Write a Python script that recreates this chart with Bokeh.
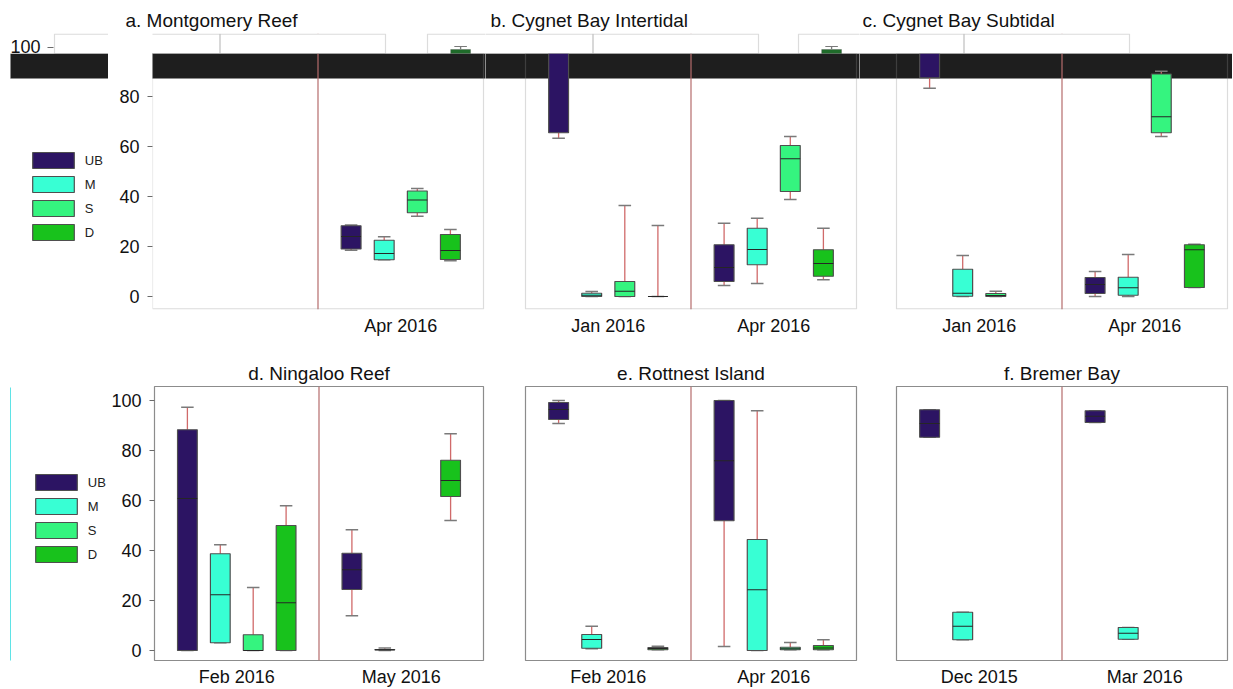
from bokeh.plotting import figure
from bokeh.layouts import column, row
from bokeh.models import (ColumnDataSource, FixedTicker, Span, BoxAnnotation,
                          Legend, LegendItem, Label, Range1d)
from bokeh.embed import file_html
from bokeh.resources import INLINE

FONT = "Liberation Sans"
SPECIES = ["UB", "M", "S", "D"]
COLORS = ["#2c1463", "#38ffd4", "#35f47f", "#18c21c"]

# ---------------- data (five-number summaries, % cover) ----------------
A_TITLE = "a. Montgomery Reef"
A_DATES = ["", "Apr 2016"]
A_DATE = [1, 1, 1, 1]
A_SPEC = ["UB", "M", "S", "D"]
A_MIN = [18.5, 14.7, 32.1, 14.3]
A_Q1 = [19.0, 14.7, 33.5, 14.8]
A_MED = [24.0, 17.2, 38.6, 18.4]
A_Q3 = [28.3, 22.5, 42.2, 24.8]
A_MAX = [28.6, 23.9, 43.2, 26.8]

B_TITLE = "b. Cygnet Bay Intertidal"
B_DATES = ["Jan 2016", "Apr 2016"]
B_DATE = [0, 0, 0, 0, 1, 1, 1, 1]
B_SPEC = ["UB", "M", "S", "D", "UB", "M", "S", "D"]
B_MIN = [63.3, 0.0, 0.0, 0.0, 4.4, 5.2, 38.8, 6.7]
B_Q1 = [65.5, 0.0, 0.0, 0.0, 6.0, 12.7, 42.0, 8.1]
B_MED = [98.0, 0.5, 2.1, 0.0, 11.6, 18.8, 55.1, 13.2]
B_Q3 = [98.8, 1.3, 6.0, 0.0, 20.7, 27.3, 60.4, 18.7]
B_MAX = [100.0, 2.0, 36.4, 28.4, 29.3, 31.3, 64.0, 27.3]

C_TITLE = "c. Cygnet Bay Subtidal"
C_DATES = ["Jan 2016", "Apr 2016"]
C_DATE = [0, 0, 0, 1, 1, 1, 1]
C_SPEC = ["UB", "M", "S", "UB", "M", "S", "D"]
C_MIN = [83.3, 0.0, 0.0, 0.0, 0.0, 64.0, 3.6]
C_Q1 = [87.5, 0.1, 0.0, 1.2, 0.5, 65.5, 3.6]
C_MED = [98.0, 1.3, 0.4, 4.8, 3.5, 71.9, 18.7]
C_Q3 = [98.8, 10.9, 1.2, 7.6, 7.7, 89.0, 20.7]
C_MAX = [100.0, 16.4, 2.1, 10.0, 16.8, 90.1, 20.9]

D_TITLE = "d. Ningaloo Reef"
D_DATES = ["Feb 2016", "May 2016"]
D_DATE = [0, 0, 0, 0, 1, 1, 1]
D_SPEC = ["UB", "M", "S", "D", "UB", "M", "D"]
D_MIN = [0.0, 3.1, 0.0, 0.0, 13.9, 0.0, 52.0]
D_Q1 = [0.0, 3.1, 0.0, 0.0, 24.4, 0.2, 61.6]
D_MED = [60.8, 22.3, 0.0, 19.1, 32.3, 0.3, 68.0]
D_Q3 = [88.3, 38.7, 6.3, 50.0, 38.9, 0.4, 76.1]
D_MAX = [97.3, 42.3, 25.2, 57.9, 48.3, 1.0, 86.7]

E_TITLE = "e. Rottnest Island"
E_DATES = ["Feb 2016", "Apr 2016"]
E_DATE = [0, 0, 0, 1, 1, 1, 1]
E_SPEC = ["UB", "M", "D", "UB", "M", "S", "D"]
E_MIN = [90.8, 0.7, 0.3, 1.6, 0.0, 0.3, 0.3]
E_Q1 = [92.4, 0.9, 0.3, 51.9, 0.0, 0.3, 0.3]
E_MED = [96.4, 4.4, 0.8, 75.9, 24.3, 0.7, 1.0]
E_Q3 = [99.2, 6.4, 1.2, 100.0, 44.4, 1.3, 2.0]
E_MAX = [100.0, 9.7, 1.7, 100.0, 95.9, 3.2, 4.3]

F_TITLE = "f. Bremer Bay"
F_DATES = ["Dec 2015", "Mar 2016"]
F_DATE = [0, 0, 1, 1]
F_SPEC = ["UB", "M", "UB", "M"]
F_MIN = [85.3, 4.3, 91.2, 4.5]
F_Q1 = [85.3, 4.3, 91.2, 4.5]
F_MED = [90.8, 9.7, 93.7, 6.9]
F_Q3 = [96.3, 15.3, 95.9, 9.2]
F_MAX = [96.3, 15.3, 95.9, 9.2]

Y_TICKS_TOP = [0, 20, 40, 60, 80]
Y_TICKS_BOT = [0, 20, 40, 60, 80, 100]

# ---------------- layout constants (page pixels) ----------------
FRAME_W = 331
UX = FRAME_W / 10.0
UY = 2.5
FRAME_LEFTS = [152, 525, 896]
EDGES_TOP = [0, 108, 485, 859, 1232]
EDGES_BOT = [0, 108, 504, 877, 1232]
TOP = dict(fig_y=0, frame_y=33, frame_h=276, height=345, y_top=105.2)
BOT = dict(fig_y=345, frame_y=386, frame_h=274, height=344, y_top=105.6)
SHIFT = 98
BAND = (53, 78)
STRIP_Y0 = 31
TITLE_LEFTS = [125, 490, 862]
# legend: left/top of first swatch (page px); legend glyph area 52x20 (drawn swatch ~42x16)
LEG_TOP = (32, 152)
LEG_BOT = (35, 474)
GLYPH_W, GLYPH_H, LEG_SPACING = 52, 20, 4

BOX_LINE = "#4f4f4f"
STEM = "#d06a6a"
CAP = "#7a7a7a"
MED = "#262626"
FRAME = "#8c8c8c"
DIVIDER = "#b56c6c"
TEXT = "#111111"


def style_axes(p, col, dates, yticks):
    xa = p.xaxis[0]
    xa.ticker = FixedTicker(ticks=[2.5, 7.5])
    xa.major_label_overrides = {2.5: dates[0], 7.5: dates[1]}
    xa.axis_line_color = None
    xa.major_tick_line_color = None
    xa.minor_tick_line_color = None
    xa.major_label_text_font = FONT
    xa.major_label_text_font_size = "18px"
    xa.major_label_text_color = TEXT
    xa.major_label_standoff = 0
    if col == 0:
        ya = p.yaxis[0]
        ya.ticker = FixedTicker(ticks=yticks)
        ya.axis_line_color = None
        ya.major_tick_line_color = "#6a6a6a"
        ya.major_tick_out = 5
        ya.major_tick_in = 0
        ya.minor_tick_line_color = None
        ya.major_label_text_font = FONT
        ya.major_label_text_font_size = "18px"
        ya.major_label_text_color = TEXT
        ya.major_label_standoff = 8


def style_title(p, standoff):
    p.title.text_font = FONT
    p.title.text_font_size = "19px"
    p.title.text_font_style = "normal"
    p.title.text_color = TEXT
    p.title.standoff = standoff


def plain(p):
    p.xgrid.visible = False
    p.ygrid.visible = False
    p.background_fill_color = "white"
    p.border_fill_color = "white"


def left_fig(geo, width):
    y0 = geo["y_top"] - geo["frame_h"] / UY
    bt = geo["frame_y"] - geo["fig_y"]
    p = figure(width=width, height=geo["height"],
               x_range=Range1d(0, width), y_range=Range1d(y0, geo["y_top"]),
               output_backend="svg", toolbar_location=None,
               min_border_left=0, min_border_right=0, min_border_top=bt,
               min_border_bottom=geo["height"] - bt - geo["frame_h"],
               x_axis_location=None, y_axis_location=None)
    plain(p)
    p.outline_line_color = None
    return p


def draw_boxes(p, date_idx, spec, mn, q1, med, q3, mx):
    pos = [d * 5 + SPECIES.index(s) + 1 for d, s in zip(date_idx, spec)]
    p.segment(x0=pos, y0=q3, x1=pos, y1=mx, line_color=STEM, line_width=1.3)
    p.segment(x0=pos, y0=mn, x1=pos, y1=q1, line_color=STEM, line_width=1.3)
    lo = [x - 0.19 for x in pos]
    hi = [x + 0.19 for x in pos]
    p.segment(x0=lo, y0=mx, x1=hi, y1=mx, line_color=CAP, line_width=1.3)
    p.segment(x0=lo, y0=mn, x1=hi, y1=mn, line_color=CAP, line_width=1.3)
    for s, c in zip(SPECIES, COLORS):
        idx = [i for i, sp in enumerate(spec) if sp == s]
        src = ColumnDataSource(dict(x=[pos[i] for i in idx],
                                    top=[q3[i] for i in idx],
                                    bottom=[q1[i] for i in idx]))
        p.vbar(x="x", top="top", bottom="bottom", width=0.6, source=src,
               fill_color=c, line_color=BOX_LINE, line_width=1.2)
    p.segment(x0=[x - 0.3 for x in pos], y0=med, x1=[x + 0.3 for x in pos],
              y1=med, line_color=MED, line_width=1.2)
    return pos


def add_legend(p, swatch_left, swatch_top, frame_bottom):
    items = []
    for s, c in zip(SPECIES, COLORS):
        # legend-only renderer (hidden; the legend still shows its swatch)
        r = p.vbar(x=[0], top=[1], bottom=[0], width=1, fill_color=c,
                   line_color=BOX_LINE, line_width=1.2, visible=False)
        items.append(LegendItem(label=s, renderers=[r]))
    # area glyphs are inset by 10 % of the glyph box inside a legend
    x = swatch_left - 0.1 * GLYPH_W
    top = swatch_top - 0.1 * GLYPH_H
    height = 4 * GLYPH_H + 3 * LEG_SPACING
    lg = Legend(items=items, location=(x, frame_bottom - (top + height)))
    lg.border_line_color = None
    lg.background_fill_alpha = 0
    lg.inactive_fill_alpha = 0
    lg.padding = 0
    lg.margin = 0
    lg.spacing = LEG_SPACING
    lg.glyph_width = GLYPH_W
    lg.glyph_height = GLYPH_H
    lg.label_height = GLYPH_H
    lg.label_standoff = 6
    lg.label_text_font = FONT
    lg.label_text_font_size = "13px"
    lg.label_text_color = "#222222"
    p.add_layout(lg)


panels_top = [
    (A_TITLE, A_DATES, A_DATE, A_SPEC, A_MIN, A_Q1, A_MED, A_Q3, A_MAX),
    (B_TITLE, B_DATES, B_DATE, B_SPEC, B_MIN, B_Q1, B_MED, B_Q3, B_MAX),
    (C_TITLE, C_DATES, C_DATE, C_SPEC, C_MIN, C_Q1, C_MED, C_Q3, C_MAX),
]
panels_bot = [
    (D_TITLE, D_DATES, D_DATE, D_SPEC, D_MIN, D_Q1, D_MED, D_Q3, D_MAX),
    (E_TITLE, E_DATES, E_DATE, E_SPEC, E_MIN, E_Q1, E_MED, E_Q3, E_MAX),
    (F_TITLE, F_DATES, F_DATE, F_SPEC, F_MIN, F_Q1, F_MED, F_Q3, F_MAX),
]

# ======================= top row =======================
ty0 = TOP["y_top"] - TOP["frame_h"] / UY


def ty(py):
    return TOP["y_top"] - (py - TOP["frame_y"]) / UY


def glitch(p, tx):
    # dark band behind the data
    p.add_layout(BoxAnnotation(left=tx(10), right=tx(1240), top=ty(BAND[0]),
                               bottom=ty(BAND[1]), fill_color="#1e1e1e",
                               fill_alpha=1, line_color="#8a8a8a",
                               line_width=1, level="underlay"))
    # blank strip where the displaced slice sits
    p.add_layout(BoxAnnotation(left=tx(-5), right=tx(1240), top=ty(STRIP_Y0),
                               bottom=ty(BAND[0]), fill_color="white",
                               fill_alpha=1, line_color=None, level="overlay"))
    # displaced frame tops
    for fl in FRAME_LEFTS:
        for half in (0, 1):
            x0 = fl - SHIFT + half * FRAME_W / 2
            p.add_layout(BoxAnnotation(left=tx(x0), right=tx(x0 + FRAME_W / 2),
                                       top=ty(TOP["frame_y"] + 0.6), bottom=ty(BAND[0]),
                                       fill_alpha=0, line_color=FRAME,
                                       line_width=1.2, level="overlay"))


bt_top = TOP["frame_y"] - TOP["fig_y"]
bb_top = TOP["height"] - bt_top - TOP["frame_h"]

fig_lt = left_fig(TOP, EDGES_TOP[1] - EDGES_TOP[0])
glitch(fig_lt, lambda px: px)
fig_lt.add_layout(Label(x=10, y=ty(46), text="100", text_font=FONT,
                        text_font_size="18px", text_color=TEXT,
                        text_baseline="middle", level="overlay"))
fig_lt.add_layout(BoxAnnotation(left=47, right=53, top=ty(46.5), bottom=ty(47.5),
                                fill_color="#6a6a6a", fill_alpha=1,
                                line_color=None, level="overlay"))
add_legend(fig_lt, LEG_TOP[0], LEG_TOP[1], TOP["frame_y"] + TOP["frame_h"])

top_figs, top_pos = [], []
for col, (t, dates, di, sp, mn, q1, md, q3, mx) in enumerate(panels_top):
    fl = FRAME_LEFTS[col]
    e0, e1 = EDGES_TOP[col + 1], EDGES_TOP[col + 2]
    bl = 44 if col == 0 else 0
    p = figure(width=e1 - e0, height=TOP["height"],
               x_range=Range1d((e0 + bl - fl) / UX, (e1 - fl) / UX),
               y_range=Range1d(ty0, TOP["y_top"]),
               output_backend="svg", toolbar_location=None,
               min_border_left=bl, min_border_right=0,
               min_border_top=bt_top, min_border_bottom=bb_top,
               y_axis_location="left" if col == 0 else None, title=t)
    plain(p)
    p.outline_line_color = None
    style_title(p, 6)
    p.title.align = "left"
    p.title.offset = TITLE_LEFTS[col] - (e0 + bl)
    style_axes(p, col, dates, Y_TICKS_TOP)
    p.add_layout(Span(location=5, dimension="height", line_color=DIVIDER,
                      line_width=1.2))
    pos = draw_boxes(p, di, sp, mn, q1, md, q3, mx)
    top_figs.append(p)
    top_pos.append(pos)
    tx = (lambda f: (lambda px: (px - f) / UX))(fl)
    glitch(p, tx)
    # the frame, below the displaced slice
    p.add_layout(BoxAnnotation(left=0, right=10, top=ty(BAND[0]),
                               bottom=ty0 + 0.25, fill_alpha=0,
                               line_color=FRAME, line_width=1.2, level="overlay"))

# displaced tops of boxes that reach into the slice, drawn in the previous panel
band_top_val = ty(BAND[0])
for col in (1, 2):
    t, dates, di, sp, mn, q1, md, q3, mx = panels_top[col]
    prev = top_figs[col - 1]
    off = (FRAME_LEFTS[col] - FRAME_LEFTS[col - 1] - SHIFT) / UX
    for i, x in enumerate(top_pos[col]):
        if mx[i] > band_top_val:
            xg = x + off
            if q3[i] > band_top_val:
                prev.add_layout(BoxAnnotation(left=xg - 0.3, right=xg + 0.3,
                                              bottom=band_top_val, top=q3[i],
                                              fill_color="#1f6b2a", fill_alpha=1,
                                              line_color="#3f3f3f", level="overlay"))
            prev.add_layout(BoxAnnotation(left=xg - 0.02, right=xg + 0.02,
                                          bottom=max(q3[i], band_top_val), top=mx[i],
                                          fill_color=CAP, fill_alpha=1,
                                          line_color=None, level="overlay"))
            prev.add_layout(BoxAnnotation(left=xg - 0.19, right=xg + 0.19,
                                          bottom=mx[i] - 0.2, top=mx[i] + 0.2,
                                          fill_color=CAP, fill_alpha=1,
                                          line_color=None, level="overlay"))

# ======================= bottom row =======================
by0 = BOT["y_top"] - BOT["frame_h"] / UY


def by(py):
    return BOT["y_top"] - (py - BOT["frame_y"]) / UY


bt_bot = BOT["frame_y"] - BOT["fig_y"]
bb_bot = BOT["height"] - bt_bot - BOT["frame_h"]

fig_lb = left_fig(BOT, EDGES_BOT[1] - EDGES_BOT[0])
add_legend(fig_lb, LEG_BOT[0], LEG_BOT[1], BOT["frame_y"] + BOT["frame_h"])
fig_lb.add_layout(BoxAnnotation(left=9.5, right=10.5, top=by(387), bottom=by(663),
                                fill_color="#5fe3e6", fill_alpha=1, line_color=None))

bot_figs = []
for col, (t, dates, di, sp, mn, q1, md, q3, mx) in enumerate(panels_bot):
    fl = FRAME_LEFTS[col]
    e0, e1 = EDGES_BOT[col + 1], EDGES_BOT[col + 2]
    bl = fl - e0
    br = e1 - (fl + FRAME_W)
    p = figure(width=e1 - e0, height=BOT["height"],
               x_range=Range1d(0, 10), y_range=Range1d(by0, BOT["y_top"]),
               output_backend="svg", toolbar_location=None,
               min_border_left=bl, min_border_right=br,
               min_border_top=bt_bot, min_border_bottom=bb_bot,
               y_axis_location="left" if col == 0 else None, title=t)
    plain(p)
    p.outline_line_color = FRAME
    p.outline_line_width = 1.2
    style_title(p, 5)
    p.title.align = "center"
    style_axes(p, col, dates, Y_TICKS_BOT)
    p.add_layout(Span(location=5, dimension="height", line_color=DIVIDER,
                      line_width=1.2))
    draw_boxes(p, di, sp, mn, q1, md, q3, mx)
    bot_figs.append(p)

layout = column(row(fig_lt, *top_figs), row(fig_lb, *bot_figs))
open("out.html", "w").write(file_html(layout, INLINE))
